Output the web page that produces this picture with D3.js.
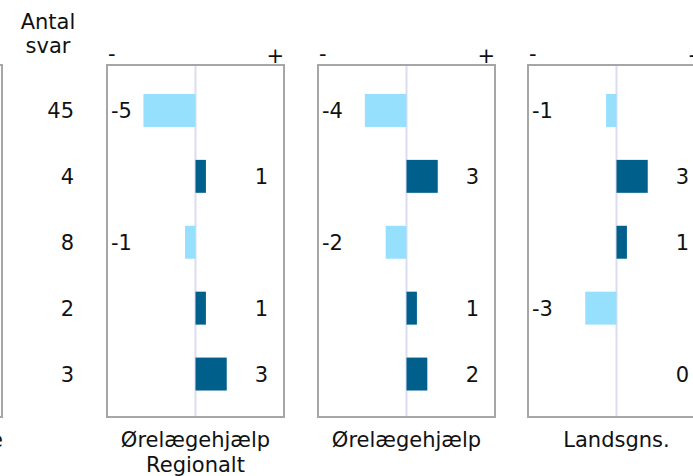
<!DOCTYPE html>
<html>
<head>
  <meta charset="utf-8">
  <title>Ørelægehjælp</title>
  <script type="text/javascript" src="https://d3js.org/d3.v7.min.js"></script>
  <style>
    body { margin: 0; background: #fff; }
    text { font-family: "DejaVu Sans", Verdana, sans-serif; fill: #111; }
  </style>
</head>
<body>
  <div class="chart"></div>

  <script type="text/javascript">
    // data
    var rows = ["r1", "r2", "r3", "r4", "r5"];
    var antal = [45, 4, 8, 2, 3];
    var panelNames = [["Ørelægehjælp", "Regionalt"], ["Ørelægehjælp"], ["Landsgns."]];
    var regionalt = [-5, 1, -1, 1, 3];
    var oerelaege = [-4, 3, -2, 1, 2];
    var landsgns = [-1, 3, 1, -3, 0];
    var panelValues = [regionalt, oerelaege, landsgns];
    var hiddenPanelLabel = "Ørelæge";

    const width = 693;
    const height = 476;
    const boxTop = 65, boxBottom = 417, boxW = 177;
    const panelLeft = [107, 318, 528];
    const fs = "21px";

    const svg = d3.select(".chart")
      .append("svg")
      .attr("width", width)
      .attr("height", height);

    const y = d3.scaleBand()
      .domain(rows)
      .range([77.5, 407])
      .paddingInner(0.5)
      .paddingOuter(0.25);

    // partially visible panel on the far left
    svg.append("rect")
      .attr("x", 2 - boxW).attr("y", boxTop)
      .attr("width", boxW).attr("height", boxBottom - boxTop)
      .attr("fill", "none").attr("stroke", "#a6a6a6").attr("stroke-width", 2);
    svg.append("text")
      .attr("x", 3).attr("y", 447)
      .attr("text-anchor", "end").attr("font-size", fs)
      .text(hiddenPanelLabel);

    // Antal svar column
    svg.append("text").attr("x", 48).attr("y", 29)
      .attr("text-anchor", "middle").attr("font-size", fs).text("Antal");
    svg.append("text").attr("x", 48).attr("y", 53)
      .attr("text-anchor", "middle").attr("font-size", fs).text("svar");
    svg.selectAll("text.antal")
      .data(antal)
      .enter()
      .append("text")
      .attr("class", "antal")
      .attr("x", 74)
      .attr("y", (d, i) => y(rows[i]) + y.bandwidth() / 2)
      .attr("dy", "0.36em")
      .attr("text-anchor", "end")
      .attr("font-size", fs)
      .text(d => d);

    panelValues.forEach(function(vals, p) {
      const x0 = panelLeft[p];
      const x = d3.scaleLinear().domain([-8.5, 8.5]).range([x0, x0 + boxW]);
      const g = svg.append("g");

      g.append("rect")
        .attr("x", x0).attr("y", boxTop)
        .attr("width", boxW).attr("height", boxBottom - boxTop)
        .attr("fill", "none").attr("stroke", "#a6a6a6").attr("stroke-width", 2);

      g.append("line")
        .attr("x1", x(0)).attr("x2", x(0))
        .attr("y1", boxTop + 1).attr("y2", boxBottom - 1)
        .attr("stroke", "#dcdcf2").attr("stroke-width", 2);

      g.append("text").attr("x", x0 + 1).attr("y", 61)
        .attr("font-size", fs).text("-");
      g.append("text").attr("x", x0 + boxW).attr("y", 63)
        .attr("text-anchor", "end").attr("font-size", fs).text("+");

      g.selectAll("rect.bar")
        .data(vals)
        .enter()
        .append("rect")
        .attr("class", "bar")
        .attr("x", d => x(Math.min(0, d)))
        .attr("y", (d, i) => y(rows[i]))
        .attr("width", d => Math.abs(x(d) - x(0)))
        .attr("height", y.bandwidth())
        .attr("fill", d => d < 0 ? "#96dffd" : "#00608b");

      g.selectAll("text.val")
        .data(vals)
        .enter()
        .append("text")
        .attr("class", "val")
        .attr("x", d => d < 0 ? x0 + 4 : x0 + boxW - 16)
        .attr("y", (d, i) => y(rows[i]) + y.bandwidth() / 2)
        .attr("dy", "0.36em")
        .attr("text-anchor", d => d < 0 ? "start" : "end")
        .attr("font-size", fs)
        .text(d => d);

      panelNames[p].forEach(function(line, k) {
        g.append("text")
          .attr("x", x(0))
          .attr("y", 447 + k * 25)
          .attr("text-anchor", "middle")
          .attr("font-size", fs)
          .text(line);
      });
    });
  </script>
</body>
</html>
